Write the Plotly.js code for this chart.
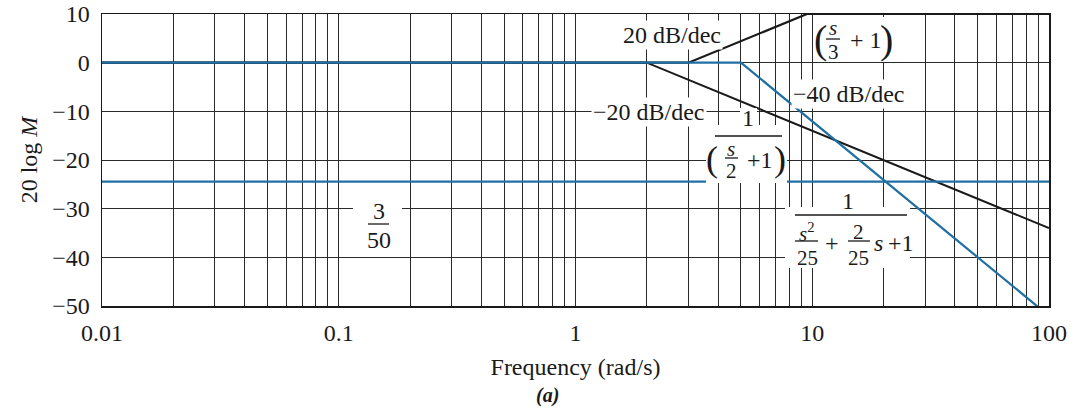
<!DOCTYPE html>
<html>
<head>
<meta charset="utf-8">
<script src="https://cdn.plot.ly/plotly-3.0.1.min.js"></script>
<style>html,body{margin:0;padding:0;background:#fff;}#chart{width:1086px;height:413px;}</style>
</head>
<body>
<div id="chart"></div>
<script>
// ---- data ----
const gainFreq = [0.01, 100];
const gainDb = [-24.44, -24.44];          // 20 log(3/50)

const poleFreq = [0.01, 2, 100];
const poleDb = [0, 0, -33.98];            // 1/(s/2+1)

const zeroFreq = [0.01, 3, 9.5, 100];
const zeroDb = [0, 0, 10, 10];            // (s/3+1)

const quadFreq = [0.01, 5, 100];
const quadDb = [0, 0, -52.04];            // 1/(s^2/25 + 2s/25 + 1)

const decadeVals = [0.01, 0.1, 1, 10, 100];
const decadeLabels = ['0.01', '0.1', '1', '10', '100'];
const yTickVals = [10, 0, -10, -20, -30, -40, -50];

// ---- minor grid: 2..9 inside each decade ----
const minorVals = [];
for (let i = 0; i < decadeVals.length - 1; i++) {
  for (let k = 2; k <= 9; k++) minorVals.push(decadeVals[i] * k);
}

const FONT = '"Liberation Serif", "Times New Roman", Times, serif';
const INK = '#1a1a1a';
const GRID = '#2a2a2a';
const BLUE = '#1f6fa3';
const FS = 24;   // main text size
const FSS = 21;  // small fraction size

// plot frame in pixels
const L = 102, R = 1049, T = 14, B = 306;
const px = v => (v - L) / (R - L);
const py = v => (B - v) / (B - T);

function txt(text, x, y, size, extra) {
  return Object.assign({
    xref: 'paper', yref: 'paper', x: px(x), y: py(y), text: text,
    showarrow: false, xanchor: 'center', yanchor: 'middle',
    font: {family: FONT, size: size, color: INK}, borderpad: 0
  }, extra || {});
}
function box(x0, y0, x1, y1) {
  return {type: 'rect', layer: 'above', xref: 'paper', yref: 'paper',
    x0: px(x0), x1: px(x1), y0: py(y1), y1: py(y0),
    fillcolor: '#ffffff', line: {width: 0}};
}
function bar(x0, x1, y) {
  return {type: 'line', layer: 'above', xref: 'paper', yref: 'paper',
    x0: px(x0), x1: px(x1), y0: py(y), y1: py(y),
    line: {color: INK, width: 1.3}};
}

const shapes = [
  box(815, 17, 893, 62), bar(826, 840, 39),
  box(740, 108, 757, 128),
  box(706, 125, 787, 183), bar(715, 782, 136), bar(725, 738, 158),
  box(353, 196, 402, 252), bar(368, 389, 224),
  box(838, 192, 858, 210),
  box(785, 207, 910, 268), bar(795, 907, 215), bar(795, 818, 241), bar(848, 870, 241)
];

const annotations = [
  // slope labels
  txt('20 dB/dec', 672, 35, FS, {bgcolor: '#fff', borderpad: 1}),
  txt('\u221240 dB/dec', 849, 94, FS, {bgcolor: '#fff', borderpad: 1}),
  txt('\u221220 dB/dec', 649, 112, FS, {bgcolor: '#fff', borderpad: 1}),

  // (s/3 + 1)
  txt('(', 820, 39, 40),
  txt('<i>s</i>', 833, 28, FSS),
  txt('3', 833, 52, FSS),
  txt('+ 1', 866, 40, FS),
  txt(')', 886, 39, 40),

  // 1 / (s/2 + 1)
  txt('1', 748, 118, FS),
  txt('(', 712, 159, 36),
  txt('<i>s</i>', 731, 149, FSS),
  txt('2', 731, 171, FSS),
  txt('+1', 760, 160, FS),
  txt(')', 780, 159, 36),

  // 3/50
  txt('3', 379, 211, FS),
  txt('50', 379, 240, FS),

  // 1 / (s^2/25 + 2/25 s + 1)
  txt('1', 848, 201, FS),
  txt('<i>s</i><sup>2</sup>', 807, 232, FSS),
  txt('25', 807, 258, FSS),
  txt('+', 832, 243, FS),
  txt('2', 858, 232, FSS),
  txt('25', 858, 258, FSS),
  txt('<i>s</i>', 878, 243, FS),
  txt('+1', 901, 243, FS),

  // panel label
  txt('<b><i>(a)</i></b>', 547, 395, 20)
];

const data = [
  {x: poleFreq, y: poleDb, mode: 'lines', line: {color: INK, width: 2}, name: '1/(s/2+1)', showlegend: false, hoverinfo: 'skip'},
  {x: zeroFreq, y: zeroDb, mode: 'lines', line: {color: INK, width: 2.2}, name: '(s/3+1)', showlegend: false, hoverinfo: 'skip'},
  {x: gainFreq, y: gainDb, mode: 'lines', line: {color: BLUE, width: 2.2}, name: '3/50', showlegend: false, hoverinfo: 'skip'},
  {x: quadFreq, y: quadDb, mode: 'lines', line: {color: BLUE, width: 2.2}, name: 'second order', showlegend: false, hoverinfo: 'skip'}
];

const layout = {
  width: 1086, height: 413,
  margin: {l: L, r: 1086 - R, t: T, b: 413 - B},
  paper_bgcolor: '#fff', plot_bgcolor: '#fff',
  font: {family: FONT, size: FS, color: INK},
  showlegend: false,
  xaxis: {
    type: 'log', range: [-2, 2], tickmode: 'array', tickvals: decadeVals, ticktext: decadeLabels,
    showgrid: true, gridcolor: GRID, gridwidth: 1, zeroline: false,
    minor: {tickmode: 'array', tickvals: minorVals, showgrid: true, gridcolor: GRID, gridwidth: 1, ticks: ''},
    showline: true, mirror: true, linecolor: INK, linewidth: 1.5, ticks: '',
    ticklabelstandoff: 5,
    tickfont: {family: FONT, size: FS, color: INK},
    title: {text: 'Frequency (rad/s)', font: {family: FONT, size: FS, color: INK}, standoff: 13}
  },
  yaxis: {
    range: [-50, 10], tickvals: yTickVals,
    showgrid: true, gridcolor: GRID, gridwidth: 1, zeroline: false,
    showline: true, mirror: true, linecolor: INK, linewidth: 1.5, ticks: '',
    ticklabelstandoff: 6,
    tickfont: {family: FONT, size: FS, color: INK},
    title: {text: '20 log <i>M</i>', font: {family: FONT, size: FS, color: INK}, standoff: 8}
  },
  shapes: shapes,
  annotations: annotations
};

Plotly.newPlot('chart', data, layout, {staticPlot: true, displayModeBar: false});
</script>
</body>
</html>
